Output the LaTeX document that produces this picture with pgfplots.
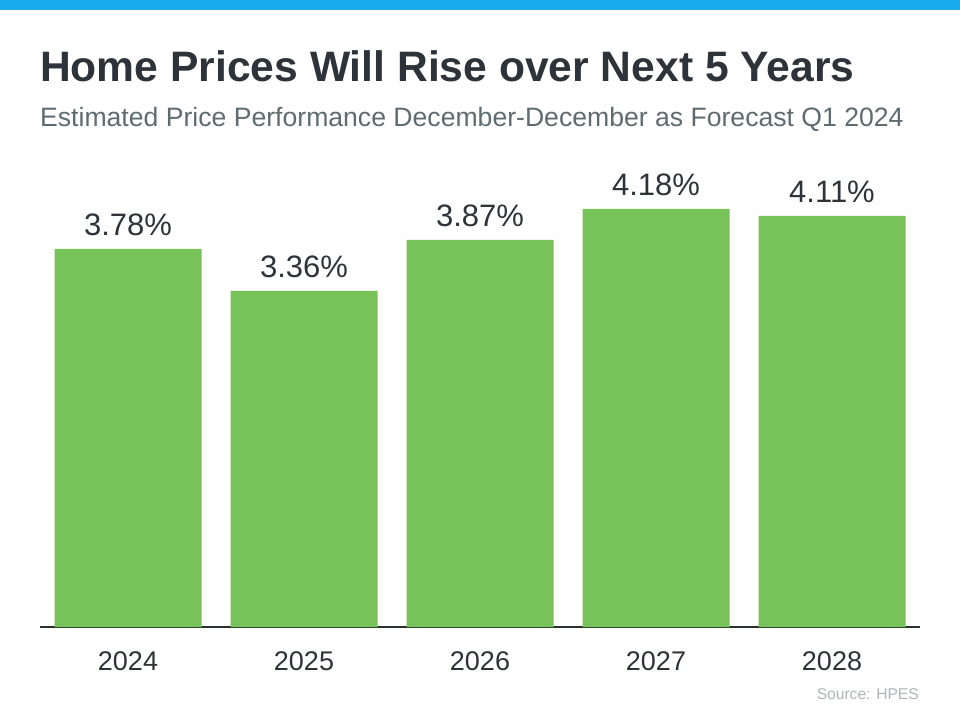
\documentclass[border=0pt]{standalone}
\usepackage{pgfplots}
\pgfplotsset{compat=1.18}
\usepackage{fontspec}
\setmainfont{Liberation Sans}

\definecolor{barGreen}{HTML}{77C35A}
\definecolor{topBlue}{HTML}{1AABEF}
\definecolor{titleGray}{HTML}{2D3339}
\definecolor{subGray}{HTML}{5F6B70}
\definecolor{srcGray}{HTML}{B0B5B8}
\definecolor{axisDark}{HTML}{27332B}

\begin{document}
\begin{tikzpicture}[x=1pt,y=1pt]
\path[use as bounding box] (0,0) rectangle (960,704);
\fill[white] (0,0) rectangle (960,704);
\fill[topBlue] (0,694) rectangle (960,704);

\node[anchor=base west, inner sep=0pt, text=titleGray,
      font=\fontsize{42.6}{51}\selectfont\bfseries] at (40,622)
      {Home Prices Will Rise over Next 5 Years};
\node[anchor=base west, inner sep=0pt, text=subGray,
      font=\fontsize{26.6}{32}\selectfont] at (40,577)
      {Estimated Price Performance December-December as Forecast Q1 2024};

\begin{axis}[
    at={(40pt,77pt)}, anchor=south west,
    scale only axis,
    width=880pt, height=467pt,
    xmin=-0.5, xmax=4.5,
    ymin=0, ymax=4.67,
    axis x line*=bottom,
    axis y line=none,
    x axis line style={axisDark, line width=2pt, -},
    xtick=data,
    xticklabels={2024,2025,2026,2027,2028},
    major tick length=0pt,
    xticklabel style={font=\fontsize{27}{32}\selectfont, text=titleGray,
                      anchor=base, yshift=-43pt},
    ytick=\empty,
    /pgf/number format/assume math mode=true,
    clip=false,
]
\addplot[ybar, bar width=147pt, fill=barGreen, draw=none,
    nodes near coords={\pgfmathprintnumber[fixed,precision=2,fixed zerofill]{\pgfplotspointmeta}\%},
    every node near coord/.append style={font=\fontsize{31}{37}\selectfont,
        text=titleGray, anchor=base, yshift=13pt, inner sep=0pt},
] coordinates {
(0, 3.78)
(1, 3.36)
(2, 3.87)
(3, 4.18)
(4, 4.11)
};
\end{axis}

\node[anchor=base east, inner sep=0pt, text=srcGray,
      font=\fontsize{15.6}{19}\selectfont] at (919,5) {Source: HPES};
\end{tikzpicture}
\end{document}
